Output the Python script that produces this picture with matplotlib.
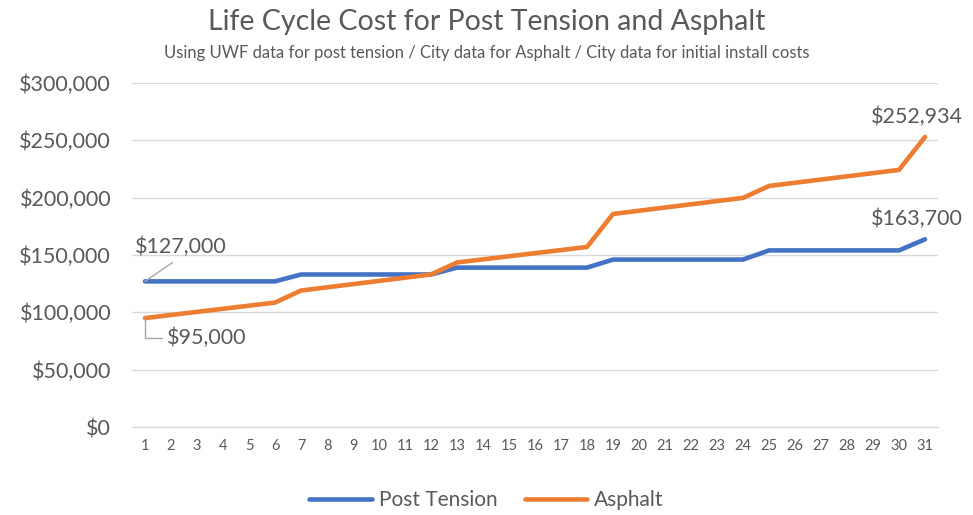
import matplotlib.pyplot as plt
from matplotlib.ticker import FuncFormatter

# years 1..31
years = list(range(1, 32))

post_tension = [127000] * 6 + [133000] * 6 + [139000] * 6 + [146000] * 6 + [154000] * 6 + [163700]

asphalt = [95000, 97700, 100400, 103100, 105800, 108500,
           119000, 121800, 124600, 127400, 130200, 133000,
           143500, 146200, 148900, 151600, 154300, 157000,
           185800, 188600, 191400, 194200, 197000, 199800,
           210200, 213000, 215800, 218600, 221400, 224200,
           252934]

title = "Life Cycle Cost for Post Tension and Asphalt"
subtitle = "Using UWF data for post tension / City data for Asphalt / City data for initial install costs"

blue = "#4472C4"
orange = "#ED7D31"
txt = "#595959"

plt.rcParams['font.family'] = ['Lato', 'DejaVu Sans']

fig = plt.figure(figsize=(9.73, 5.15), dpi=100)
ax = fig.add_axes([132 / 973, 1 - 427 / 515, (938 - 132) / 973, (427 - 83) / 515])

ax.plot(years, post_tension, color=blue, lw=3.3, solid_capstyle='round', label="Post Tension", zorder=3)
ax.plot(years, asphalt, color=orange, lw=3.3, solid_capstyle='round', label="Asphalt", zorder=3)

ax.set_xlim(0.5, 31.5)
ax.set_ylim(0, 300000)
ax.set_yticks(range(0, 300001, 50000))
ax.yaxis.set_major_formatter(FuncFormatter(lambda v, p: "${:,.0f}".format(v)))
ax.set_xticks(years)
ax.grid(axis='y', color='#D9D9D9', lw=1)
ax.set_axisbelow(True)
for s in ax.spines.values():
    s.set_visible(False)
ax.spines['bottom'].set_visible(True)
ax.spines['bottom'].set_color('#D9D9D9')
ax.tick_params(axis='both', length=0, colors=txt)
ax.tick_params(axis='y', labelsize=15.5, pad=15)
ax.tick_params(axis='x', labelsize=10.5, pad=9)

# data labels
lbl = 15.5
ax.annotate("${:,.0f}".format(post_tension[0]), xy=(years[0], post_tension[0]),
            xytext=(years[0] - 0.38, 148500), fontsize=lbl, color=txt, ha='left', va='bottom',
            arrowprops=dict(arrowstyle='-', color='#A6A6A6', lw=1, shrinkA=4, shrinkB=0,
                            relpos=(0.5, 0)))
ax.annotate("${:,.0f}".format(asphalt[0]), xy=(years[0], asphalt[0]),
            xytext=(years[0] + 0.85, 78000), fontsize=lbl, color=txt, ha='left', va='center',
            arrowprops=dict(arrowstyle='-', color='#A6A6A6', lw=1, shrinkA=2, shrinkB=0,
                            connectionstyle='angle,angleA=0,angleB=90,rad=0', relpos=(0, 0.5)))
ax.text(years[-1] - 0.3, asphalt[-1] + 9000, "${:,.0f}".format(asphalt[-1]),
        fontsize=lbl, color=txt, ha='center', va='bottom')
ax.text(years[-1] - 0.3, post_tension[-1] + 9000, "${:,.0f}".format(post_tension[-1]),
        fontsize=lbl, color=txt, ha='center', va='bottom')

fig.text(0.5, 0.958, title, ha='center', va='center', fontsize=20.5, color=txt)
fig.text(0.5, 0.898, subtitle, ha='center', va='center', fontsize=12, color=txt)

fig.legend(loc='center', bbox_to_anchor=(0.5, 1 - 500 / 515), ncol=2, frameon=False,
           fontsize=15, labelcolor=txt, handlelength=3.0, columnspacing=1.3, handletextpad=0.35)

fig.savefig("out.png", dpi=100)
